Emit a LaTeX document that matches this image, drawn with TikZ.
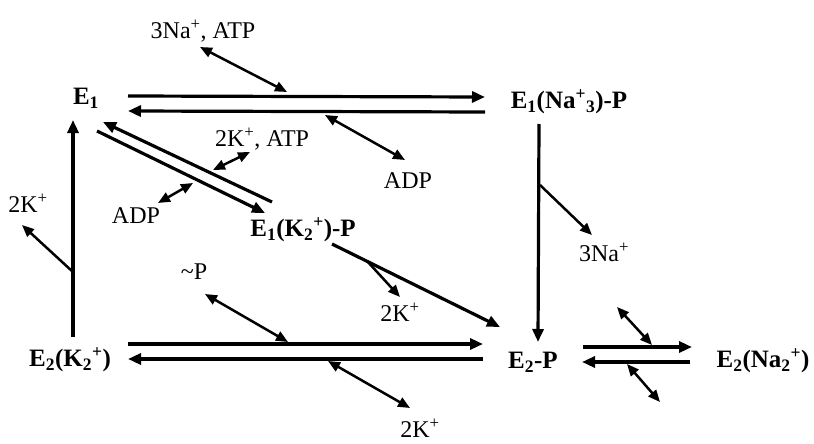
\documentclass[tikz,border=0pt]{standalone}
\usepackage{fontspec}
\setmainfont{Liberation Serif}
\usetikzlibrary{arrows.meta}
\tikzset{
  enz/.style={font=\fontsize{25}{28}\selectfont\bfseries, inner sep=1pt},
  ion/.style={font=\fontsize{24}{27}\selectfont, inner sep=1pt},
  main/.style={line width=3.2pt, -{Triangle[length=13pt, width=11pt]}},
  side/.style={line width=2.5pt, {Triangle[length=12pt, width=10pt]}-{Triangle[length=12pt, width=10pt]}},
  leave/.style={line width=2.5pt, -{Triangle[length=12pt, width=10pt]}},
}

\begin{document}
\begin{tikzpicture}[x=1pt, y=-1pt]
  \useasboundingbox (0,0) rectangle (814,444);
  % enzyme states
  \node[enz] (E1)   at (86,98)   {E\textsubscript{1}};
  \node[enz] (E1Na) at (569,102) {E\textsubscript{1}(Na\textsuperscript{+}\textsubscript{3})-P};
  \node[enz] (E1K)  at (303,230) {E\textsubscript{1}(K\textsubscript{2}\textsuperscript{+})-P};
  \node[enz] (E2K)  at (70,360)  {E\textsubscript{2}(K\textsubscript{2}\textsuperscript{+})};
  \node[enz] (E2P)  at (533,362) {E\textsubscript{2}-P};
  \node[enz] (E2Na) at (763,361) {E\textsubscript{2}(Na\textsubscript{2}\textsuperscript{+})};
  % ions and nucleotides
  \node[ion] (naATP) at (203,31)  {3Na\textsuperscript{+}, ATP};
  \node[ion] (kATP)  at (262,139) {2K\textsuperscript{+}, ATP};
  \node[ion] (adpA)  at (408,181) {ADP};
  \node[ion] (adpB)  at (136,216) {ADP};
  \node[ion] (kA)    at (28,203)  {2K\textsuperscript{+}};
  \node[ion] (naOut) at (604,252) {3Na\textsuperscript{+}};
  \node[ion] (kB)    at (400,312) {2K\textsuperscript{+}};
  \node[ion] (pi)    at (194,272) {\textasciitilde P};
  \node[ion, inner sep=0pt] (kC) at (420,428) {2K\textsuperscript{+}};
  % end points of the arrows
  \coordinate (top1a) at (128,96);   \coordinate (top1b) at (485,97);
  \coordinate (top2a) at (128,111);  \coordinate (top2b) at (485,112);
  \coordinate (dg1a)  at (103,122);  \coordinate (dg1b)  at (272,202);
  \coordinate (dg2a)  at (97,131);   \coordinate (dg2b)  at (265,213);
  \coordinate (lftA)  at (73,337);   \coordinate (lftB)  at (73,120);
  \coordinate (rgtA)  at (539,124);  \coordinate (rgtB)  at (538,342);
  \coordinate (dg3a)  at (332,244);  \coordinate (dg3b)  at (500,327);
  \coordinate (bot1a) at (128,344);  \coordinate (bot1b) at (483,344);
  \coordinate (bot2a) at (128,359);  \coordinate (bot2b) at (483,359);
  \coordinate (rt1a)  at (583,347);  \coordinate (rt1b)  at (692,347);
  \coordinate (rt2a)  at (582,362);  \coordinate (rt2b)  at (690,362);
  % reaction arrows
  \draw[main] (top1a) -- (top1b);
  \draw[main] (top2b) -- (top2a);
  \draw[main] (dg1b) -- (dg1a);
  \draw[main] (dg2a) -- (dg2b);
  \draw[main] (lftA) -- (lftB);
  \draw[main] (rgtA) -- (rgtB);
  \draw[main] (dg3a) -- (dg3b);
  \draw[main] (bot1a) -- (bot1b);
  \draw[main] (bot2b) -- (bot2a);
  \draw[main] (rt1a) -- (rt1b);
  \draw[main] (rt2b) -- (rt2a);
  % binding and release
  \coordinate (s1a) at (200,47);  \coordinate (s1b) at (287,92);
  \coordinate (s2a) at (325,115); \coordinate (s2b) at (405,160);
  \coordinate (s3a) at (213,170); \coordinate (s3b) at (250,152);
  \coordinate (s4a) at (158,203); \coordinate (s4b) at (193,183);
  \coordinate (s5a) at (73,272);  \coordinate (s5b) at (22,225);
  \coordinate (s6a) at (540,185); \coordinate (s6b) at (592,235);
  \coordinate (s7a) at (367,261); \coordinate (s7b) at (400,297);
  \coordinate (s8a) at (205,294); \coordinate (s8b) at (288,342);
  \coordinate (s9a) at (328,361); \coordinate (s9b) at (410,408);
  \coordinate (s10a) at (617,307); \coordinate (s10b) at (652,345);
  \coordinate (s11a) at (627,364); \coordinate (s11b) at (660,402);
  \draw[side] (s1a) -- (s1b);
  \draw[side] (s2a) -- (s2b);
  \draw[side] (s3a) -- (s3b);
  \draw[side] (s4a) -- (s4b);
  \draw[leave] (s5a) -- (s5b);
  \draw[leave] (s6a) -- (s6b);
  \draw[leave] (s7a) -- (s7b);
  \draw[side] (s8a) -- (s8b);
  \draw[side] (s9a) -- (s9b);
  \draw[side] (s10a) -- (s10b);
  \draw[side] (s11a) -- (s11b);
\end{tikzpicture}
\end{document}
